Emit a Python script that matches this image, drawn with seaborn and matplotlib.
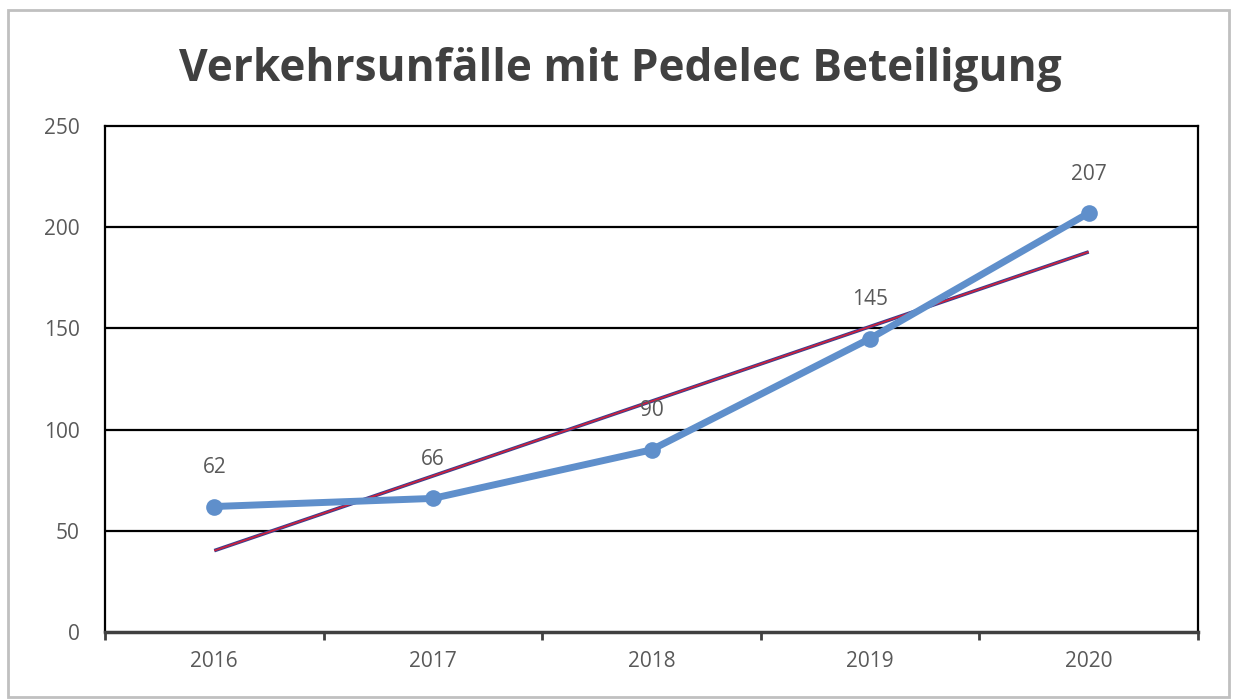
import numpy as np
import seaborn as sns
import matplotlib.pyplot as plt
from matplotlib.patches import Rectangle

years = ["2016", "2017", "2018", "2019", "2020"]
unfaelle = [62, 66, 90, 145, 207]
y_ticks = [0, 50, 100, 150, 200, 250]

sns.set_theme(style="white")
plt.rcParams["font.family"] = ["Open Sans", "DejaVu Sans"]

fig = plt.figure(figsize=(12.33, 6.99), dpi=100)
ax = fig.add_axes([105 / 1233, 1 - 632 / 699, 1093 / 1233, 506 / 699])

# Rahmen um das ganze Diagramm
fig.patches.append(Rectangle((8 / 1233, 2 / 699), 1221 / 1233, 687 / 699,
                             transform=fig.transFigure, fill=False,
                             edgecolor="#c0c0c0", linewidth=2))

x = np.arange(len(years))
sns.lineplot(x=x, y=unfaelle, ax=ax, color="#5f8fcb", linewidth=5,
             marker="o", markersize=12, markeredgewidth=0, zorder=4)

# lineare Trendlinie
m, b = np.polyfit(x, unfaelle, 1)
trend = m * x + b
ax.plot(x, trend, color="#3a3f8f", linewidth=2.6, zorder=3,
        solid_capstyle="butt")
ax.plot(x, trend, color="#d0203a", linewidth=1.2, zorder=3,
        solid_capstyle="butt")

for xi, v in zip(x, unfaelle):
    ax.annotate(str(v), (xi, v), xytext=(0, 28), textcoords="offset points",
                ha="center", va="center", fontsize=15, color="#595959")

ax.set_xlim(-0.5, len(years) - 0.5)
ax.set_ylim(0, 250)
ax.set_yticks(y_ticks)
ax.set_yticklabels([str(t) for t in y_ticks], fontsize=15, color="#595959")
ax.set_xticks(np.arange(-0.5, len(years)))
ax.set_xticklabels([])
ax.set_xticks(x, minor=True)
ax.set_xticklabels(years, minor=True, fontsize=15, color="#595959")
ax.tick_params(axis="x", which="major", direction="out", length=6, width=2,
               color="#404040", bottom=True)
ax.tick_params(axis="x", which="minor", length=0, pad=14)
ax.tick_params(axis="y", length=0, pad=18)

for g in y_ticks[1:-1]:
    ax.axhline(g, color="black", linewidth=1.6, zorder=1)
for s in ["left", "top", "right"]:
    ax.spines[s].set_color("black")
    ax.spines[s].set_linewidth(1.6)
ax.spines["bottom"].set_color("#404040")
ax.spines["bottom"].set_linewidth(2.5)

fig.text(0.503, 1 - 70 / 699, "Verkehrsunfälle mit Pedelec Beteiligung",
         ha="center", va="center", fontsize=31.8, fontweight="bold",
         color="#404040")

fig.savefig("out.png", dpi=100)
